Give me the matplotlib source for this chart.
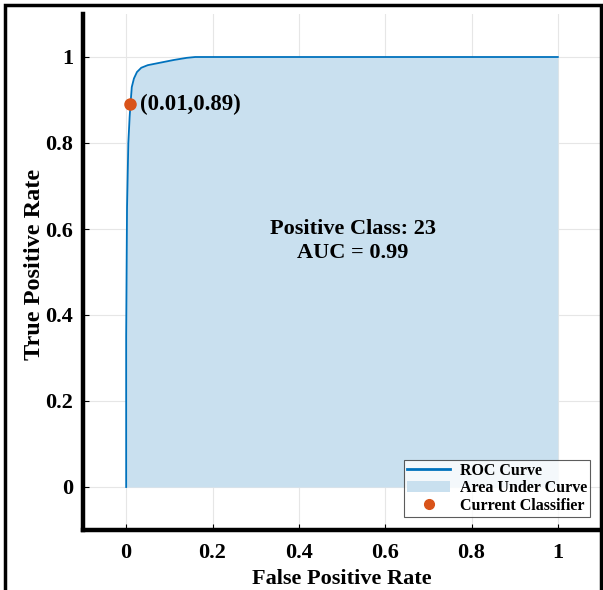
import matplotlib
matplotlib.use("Agg")
import matplotlib.pyplot as plt
from matplotlib.patches import Rectangle, Patch
from matplotlib.lines import Line2D

fpr = [0.0, 0.0, 0.002, 0.005, 0.008, 0.01, 0.013, 0.018, 0.025, 0.035, 0.05, 0.08, 0.11, 0.14, 0.16, 0.3, 0.5, 0.7, 0.9, 0.96, 1.0]
tpr = [0.0, 0.35, 0.65, 0.80, 0.86, 0.89, 0.93, 0.95, 0.965, 0.975, 0.981, 0.987, 0.993, 0.998, 1.0, 1.0, 1.0, 1.0, 1.0, 1.0, 1.0]
cur_point = (0.01, 0.89)
xticks = [0, 0.2, 0.4, 0.6, 0.8, 1]
yticks = [0, 0.2, 0.4, 0.6, 0.8, 1]
xtick_labels = ["0", "0.2", "0.4", "0.6", "0.8", "1"]
ytick_labels = ["0", "0.2", "0.4", "0.6", "0.8", "1"]

plt.rcParams['font.family'] = ['Liberation Serif', 'DejaVu Serif']
plt.rcParams['font.weight'] = 'bold'

fig = plt.figure(figsize=(6.03, 5.90), dpi=100)
ax = fig.add_axes([83/603, 60/590, (601-83)/603, (530-14)/590])

ax.fill_between(fpr, tpr, 0, color='#c9e0ef', linewidth=0, label='Area Under Curve')
ax.plot(fpr, tpr, color='#0072BD', lw=1.3, label='ROC Curve')
ax.plot([cur_point[0]], [cur_point[1]], 'o', color='#D95319', ms=8, label='Current Classifier')
ax.text(cur_point[0] + 0.022, cur_point[1], "(0.01,0.89)", fontsize=16.5, fontweight='bold', va='center', ha='left')
ax.text(0.525, 0.572, "Positive Class: 23\nAUC = 0.99", fontsize=16, fontweight='bold', ha='center', va='center', linespacing=1.3)

ax.set_xlim(-0.1, 1.1)
ax.set_ylim(-0.1, 1.1)
ax.set_xticks(xticks)
ax.set_xticklabels(xtick_labels)
ax.set_yticks(yticks)
ax.set_yticklabels(ytick_labels)
ax.tick_params(direction='in', length=4, labelsize=16, width=0.8)
ax.tick_params(axis='x', pad=9)
ax.tick_params(axis='y', pad=7)
for lab in ax.get_xticklabels() + ax.get_yticklabels():
    lab.set_fontweight('bold')
ax.grid(True, color='#e6e6e6', lw=0.8)
ax.set_axisbelow(True)
for s in ['top', 'right']:
    ax.spines[s].set_visible(False)
for s in ['left', 'bottom']:
    ax.spines[s].set_linewidth(3.2)
    ax.spines[s].set_color('black')

ax.set_xlabel("False Positive Rate", fontsize=16, fontweight='bold', labelpad=5)
ax.set_ylabel("True Positive Rate", fontsize=17.5, fontweight='bold')
ax.yaxis.set_label_coords(-0.073, 0.514)

handles = [Line2D([0], [0], color='#0072BD', lw=2),
           Patch(facecolor='#c9e0ef', edgecolor='none'),
           Line2D([0], [0], marker='o', color='#D95319', lw=0, ms=7)]
leg = ax.legend(handles, ['ROC Curve', 'Area Under Curve', 'Current Classifier'],
                loc='lower right', bbox_to_anchor=(0.979, 0.025), borderaxespad=0, fontsize=11.5,
                frameon=True, fancybox=False, edgecolor='#333333', handlelength=2.7, handletextpad=0.6,
                labelspacing=0.1, borderpad=0.2)
leg.get_frame().set_linewidth(0.8)
for t in leg.get_texts():
    t.set_fontweight('bold')

fig.patches.append(Rectangle((5/603, -0.02), 596/603, 1 - 5/590 + 0.02, transform=fig.transFigure,
                             fill=False, edgecolor='black', lw=2.5, zorder=10))

fig.savefig("out.png", dpi=100)
